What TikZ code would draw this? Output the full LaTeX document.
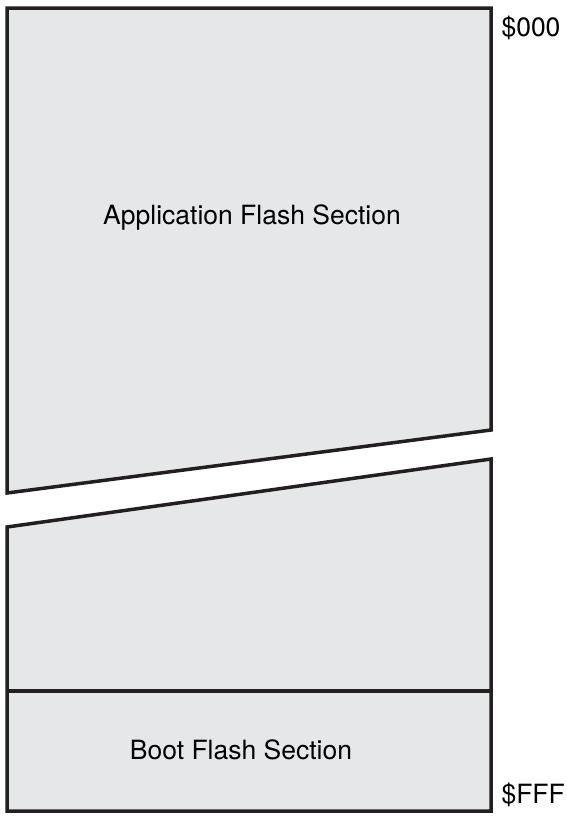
\documentclass[tikz,border=0pt]{standalone}
\usepackage{fontspec}
\setmainfont{TeX Gyre Heros}
\definecolor{flashgray}{HTML}{E6E7E8}
\definecolor{flashline}{HTML}{231F20}
\begin{document}
\begin{tikzpicture}[x=1pt,y=-1pt,font=\fontsize{26.5}{30}\selectfont]
\useasboundingbox (0,0) rectangle (567,822);
\draw [line width=3.5pt,flashline,fill=flashgray,line join=miter] (7,8) -- (491,8) -- (491,430) -- (7,493) -- cycle;
\draw [line width=3.5pt,flashline,fill=flashgray,line join=miter] (7,527) -- (491,459) -- (491,811) -- (7,811) -- cycle;
\draw [line width=4pt,flashline] (7,691) -- (491,691);
\node (app) at (252,217) {Application Flash Section};
\node (boot) at (241,750) {Boot Flash Section};
\node (start) [anchor=west] at (498,28) {\$000};
\node (end) [anchor=west] at (498,795) {\$FFF};
\end{tikzpicture}
\end{document}
